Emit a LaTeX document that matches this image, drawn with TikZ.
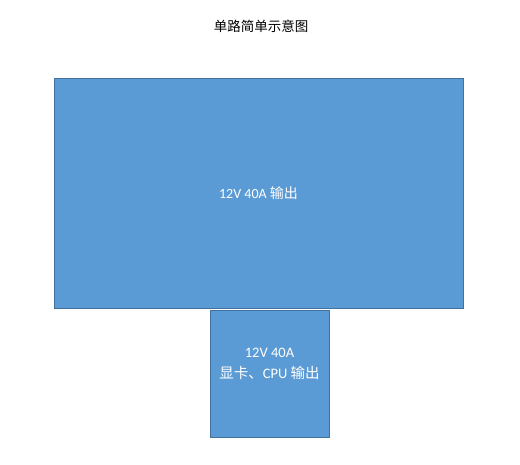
\documentclass[tikz,border=0pt]{standalone}
\usepackage{fontspec}
\setmainfont{Carlito}
\newfontfamily\cjk{Noto Sans CJK SC}
\usepackage{tikz}

\definecolor{boxfill}{HTML}{5B9BD5}
\definecolor{boxline}{HTML}{41719C}

\begin{document}
\begin{tikzpicture}[x=1pt, y=-1pt]
      \tikzstyle{supply} = [
        rectangle,
        draw=boxline,
        line width=0.9pt,
        fill=boxfill,
        text=white,
        align=center,
        inner sep = 0pt
      ]

      \useasboundingbox (0,0) rectangle (520,465);

      \node[font=\fontsize{13.5}{16}\selectfont] (title) at (261,26) {\cjk 单路简单示意图};
      \node[supply, minimum width=409pt, minimum height=230pt,
      font=\fontsize{14}{16}\selectfont] (main) at (258.5,193)
      {12V 40A {\cjk 输出}};
      \node[supply, minimum width=119pt, minimum height=127pt] (gpu) at
      (269.5,373.5) {};
      \node[text=white, align=center, font=\fontsize{14.5}{21}\selectfont]
      (gputext) at ([yshift=10pt]gpu.center)
      {12V 40A\\ {\cjk 显卡、}CPU {\cjk 输出}};
    \end{tikzpicture}
\end{document}
